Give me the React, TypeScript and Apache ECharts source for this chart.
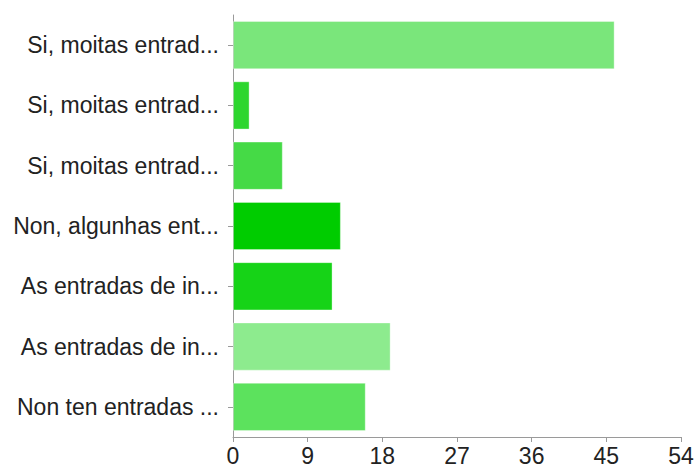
import React, { useEffect, useRef } from "react";
import * as echarts from "echarts";

const categories = [
  "Si, moitas entrad...",
  "Si, moitas entrad...",
  "Si, moitas entrad...",
  "Non, algunhas ent...",
  "As entradas de in...",
  "As entradas de in...",
  "Non ten entradas ...",
];
const values = [46, 2, 6, 13, 12, 19, 16];
const barColors = ["#7ae67b", "#2dd62e", "#45da46", "#00cc00", "#16d317", "#8deb8e", "#5ce25d"];
const xMin = 0;
const xMax = 54;
const xInterval = 9;

export default function App() {
  const ref = useRef<HTMLDivElement>(null);
  useEffect(() => {
    if (!ref.current) return;
    const chart = echarts.init(ref.current, undefined, { renderer: "svg" });
    chart.setOption({
      animation: false,
      backgroundColor: "#ffffff",
      grid: { left: 233, right: 16, top: 15, bottom: 33, containLabel: false },
      xAxis: {
        type: "value",
        min: xMin,
        max: xMax,
        interval: xInterval,
        splitLine: { show: false },
        axisLine: { show: true, lineStyle: { color: "#9a9a9a", width: 1 } },
        axisTick: { show: true, length: 5, lineStyle: { color: "#9a9a9a" } },
        axisLabel: { color: "#222", fontSize: 23, fontFamily: "Liberation Sans, Arial, sans-serif", margin: 7 },
      },
      yAxis: {
        type: "category",
        data: categories,
        inverse: true,
        axisLine: { show: true, lineStyle: { color: "#9a9a9a", width: 1 } },
        axisTick: { show: true, length: 5, alignWithLabel: true, lineStyle: { color: "#9a9a9a" } },
        axisLabel: { color: "#222", fontSize: 23, fontFamily: "Liberation Sans, Arial, sans-serif", margin: 14 },
      },
      series: [
        {
          type: "bar",
          data: values.map((v, i) => ({ value: v, itemStyle: { color: barColors[i] } })),
          barCategoryGap: "20%",
          itemStyle: { borderColor: "rgba(255,255,255,0.35)", borderWidth: 1 },
        },
      ],
    });
    return () => chart.dispose();
  }, []);
  return <div ref={ref} style={{ position: "fixed", left: 0, top: 0, width: 697, height: 470 }} />;
}
